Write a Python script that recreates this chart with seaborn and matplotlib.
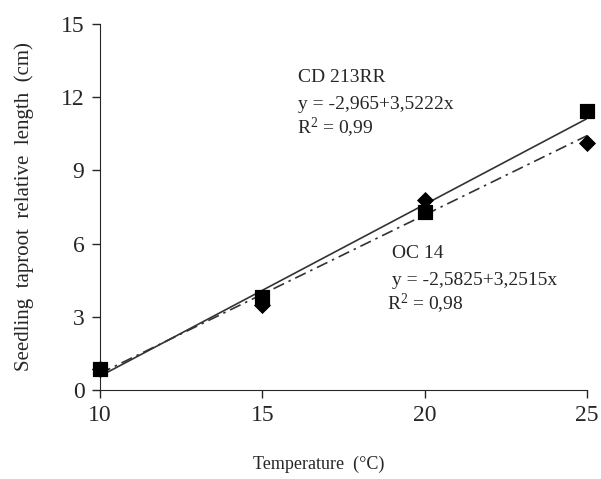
import numpy as np
import pandas as pd
import matplotlib
matplotlib.use("Agg")
import matplotlib.pyplot as plt
import seaborn as sns

# data
temperature = [10, 15, 20, 25]
cd213rr = [0.85, 3.8, 7.3, 11.45]   # squares
oc14 = [0.85, 3.5, 7.8, 10.1]       # diamonds

# regression coefficients (x coded 1..4)
cd_a, cd_b = -2.965, 3.5222
oc_a, oc_b = -2.5825, 3.2515

sns.set_style("ticks")
plt.rcParams['font.family'] = ['Liberation Serif', 'DejaVu Serif']
plt.rcParams['mathtext.fontset'] = 'custom'
plt.rcParams['mathtext.rm'] = 'Liberation Serif'
plt.rcParams['mathtext.it'] = 'Liberation Serif:italic'

df = pd.DataFrame({"temp": temperature, "CD 213RR": cd213rr, "OC 14": oc14})
coded = (df["temp"] - 10) / 5 + 1
df["fit_cd"] = cd_a + cd_b * coded
df["fit_oc"] = oc_a + oc_b * coded

fig = plt.figure(figsize=(6.01, 4.79), dpi=100)
ax = fig.add_axes([0.166, 0.186, 0.811, 0.764])

sns.lineplot(data=df, x="temp", y="fit_cd", ax=ax, color="#333333", lw=1.2)
sns.lineplot(data=df, x="temp", y="fit_oc", ax=ax, color="#333333", lw=1.2,
             linestyle=(0, (7, 3, 1.5, 3)))
sns.scatterplot(data=df, x="temp", y="OC 14", ax=ax, marker="D", s=65,
                color="black", edgecolor="black", zorder=5)
sns.scatterplot(data=df, x="temp", y="CD 213RR", ax=ax, marker="s", s=115,
                color="black", edgecolor="black", zorder=6)

ax.set_xlim(10, 25)
ax.set_ylim(0, 15)
ax.set_xticks([10, 15, 20, 25])
ax.set_yticks([0, 3, 6, 9, 12, 15])
ax.tick_params(labelsize=17, length=6, pad=5, direction="out", width=1)
sns.despine(ax=ax)
for c in ax.collections:
    c.set_clip_on(False)

ax.set_xlabel("Temperature  (°C)", fontsize=13)
ax.xaxis.set_label_coords(0.45, -0.18)
ax.set_ylabel("Seedling  taproot  relative  length  (cm)", fontsize=15)
ax.yaxis.set_label_coords(-0.135, 0.5)

fs = 14
ax.text(0.407, 0.855, "CD 213RR", transform=ax.transAxes, fontsize=fs, va="center")
ax.text(0.407, 0.781, "y = -2,965+3,5222x", transform=ax.transAxes, fontsize=fs, va="center")
ax.text(0.405, 0.716, "R$^2$ = 0,99", transform=ax.transAxes, fontsize=fs, va="center")
ax.text(0.60, 0.374, "OC 14", transform=ax.transAxes, fontsize=fs, va="center")
ax.text(0.60, 0.298, "y = -2,5825+3,2515x", transform=ax.transAxes, fontsize=fs, va="center")
ax.text(0.59, 0.235, "R$^2$ = 0,98", transform=ax.transAxes, fontsize=fs, va="center")

plt.savefig("out.png", dpi=100)
